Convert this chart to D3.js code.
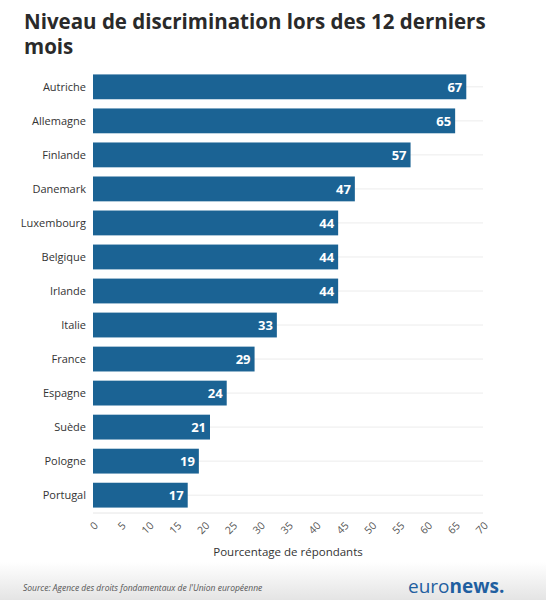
<!DOCTYPE html>
<html><head><meta charset="utf-8">
<script src="https://cdn.jsdelivr.net/npm/d3@7"></script>
<style>body{margin:0;background:#fff;font-family:"Open Sans",sans-serif}</style>
</head><body>
<svg id="chart" width="546" height="600"></svg>
<script>
var countries = ['Autriche','Allemagne','Finlande','Danemark','Luxembourg','Belgique','Irlande','Italie','France','Espagne','Suède','Pologne','Portugal'];
var values = [67,65,57,47,44,44,44,33,29,24,21,19,17];
var ticks = d3.range(0, 75, 5);

var svg = d3.select('#chart');
var x = d3.scaleLinear().domain([0,70]).range([93,483]);
var y = d3.scaleBand().domain(countries).range([70,512]).paddingInner(0.27).paddingOuter(0.13);

// footer
var grad = svg.append('defs').append('linearGradient').attr('id','fg').attr('x1',0).attr('y1',0).attr('x2',0).attr('y2',1);
grad.append('stop').attr('offset','0').attr('stop-color','#fff');
grad.append('stop').attr('offset','1').attr('stop-color','#e4e4e4');
svg.append('rect').attr('x',0).attr('y',562).attr('width',546).attr('height',38).attr('fill','url(#fg)');

svg.append('text').attr('x',24).attr('y',29).attr('font-size',20.5).attr('font-weight',700).attr('fill','#2a2a2a').text('Niveau de discrimination lors des 12 derniers');
svg.append('text').attr('x',24).attr('y',54).attr('font-size',20.5).attr('font-weight',700).attr('fill','#2a2a2a').text('mois');

// grid lines at row centres
svg.append('g').selectAll('line').data(countries).join('line')
  .attr('x1',x(0)).attr('x2',x(70))
  .attr('y1',function(d){return y(d)+y.bandwidth()/2;}).attr('y2',function(d){return y(d)+y.bandwidth()/2;})
  .attr('stroke','#ececec');
svg.append('line').attr('x1',x(0)).attr('x2',x(70)).attr('y1',513).attr('y2',513).attr('stroke','#e6e6e6');

svg.append('g').selectAll('rect').data(values).join('rect')
  .attr('x',x(0)).attr('y',function(d,i){return y(countries[i]);})
  .attr('width',function(d){return x(d)-x(0);}).attr('height',y.bandwidth())
  .attr('fill','#1b6394');

svg.append('g').selectAll('text').data(values).join('text')
  .attr('x',function(d){return x(d)-4;}).attr('y',function(d,i){return y(countries[i])+y.bandwidth()/2;})
  .attr('dy','0.36em').attr('text-anchor','end').attr('font-size',13).attr('font-weight',700).attr('fill','#fff')
  .text(function(d){return d;});

svg.append('g').selectAll('text').data(countries).join('text')
  .attr('x',86).attr('y',function(d){return y(d)+y.bandwidth()/2;})
  .attr('dy','0.35em').attr('text-anchor','end').attr('font-size',11).attr('fill','#333')
  .text(function(d){return d;});

var ax = svg.append('g').attr('transform','translate(0,513)')
  .call(d3.axisBottom(x).tickValues(ticks).tickSize(0).tickPadding(0));
ax.select('.domain').remove();
ax.selectAll('text').attr('font-family','"Open Sans",sans-serif').attr('font-size',10.5).attr('fill','#555')
  .attr('text-anchor','end').attr('transform','translate(0,8) rotate(-45)').attr('dy','0.7em');

svg.append('text').attr('x',x(35)).attr('y',556).attr('text-anchor','middle').attr('font-size',11.5).attr('fill','#333').text('Pourcentage de répondants');

svg.append('text').attr('x',23).attr('y',591).attr('font-size',8.5).attr('font-style','italic').attr('fill','#555').text("Source: Agence des droits fondamentaux de l'Union européenne");
var logo = svg.append('text').attr('x',408).attr('y',593).attr('font-size',19).attr('fill','#1f5fa0');
logo.append('tspan').text('euro');
logo.append('tspan').attr('font-weight',700).text('news.');
</script>
</body></html>
